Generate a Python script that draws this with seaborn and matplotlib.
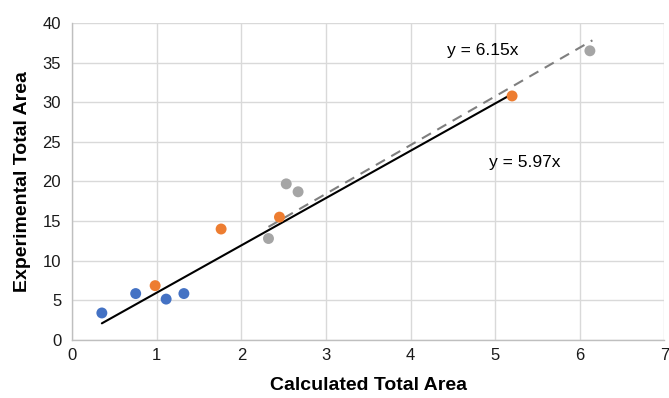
import numpy as np
import pandas as pd
import matplotlib
matplotlib.use('Agg')
import matplotlib.pyplot as plt
import seaborn as sns

# data
blue_x = [0.35, 0.75, 1.11, 1.32]
blue_y = [3.4, 5.85, 5.15, 5.85]
orange_x = [0.98, 1.76, 2.45, 5.20]
orange_y = [6.85, 14.0, 15.5, 30.8]
gray_x = [2.32, 2.53, 2.67, 6.12]
gray_y = [12.8, 19.7, 18.7, 36.5]

fit_all_slope = 5.97
fit_gray_slope = 6.15

sns.set_style('white')
plt.rcParams['font.family'] = ['Liberation Sans', 'DejaVu Sans']
plt.rcParams['text.color'] = 'black'
plt.rcParams['axes.labelcolor'] = 'black'
plt.rcParams['xtick.labelcolor'] = '#1a1a1a'
plt.rcParams['ytick.labelcolor'] = '#1a1a1a'

df = pd.DataFrame({
    'x': blue_x + orange_x + gray_x,
    'y': blue_y + orange_y + gray_y,
    'group': ['blue'] * 4 + ['orange'] * 4 + ['gray'] * 4,
})
palette = {'blue': '#4472C4', 'orange': '#ED7D31', 'gray': '#A5A5A5'}

fig = plt.figure(figsize=(6.69, 3.98), dpi=100)
ax = fig.add_axes([0.108, 0.146, 0.885, 0.796])

# trendlines
xs = np.array([min(blue_x + orange_x), max(blue_x + orange_x)])
ax.plot(xs, fit_all_slope * xs, color='black', lw=1.5, zorder=2)
xg = np.array([min(gray_x), max(gray_x) + 0.03])
ax.plot(xg, fit_gray_slope * xg, color='#7f7f7f', lw=1.5, ls=(0, (5, 3.5)), zorder=2)

sns.scatterplot(data=df, x='x', y='y', hue='group', palette=palette, s=62,
                edgecolor='none', legend=False, ax=ax, zorder=3)

ax.text(4.85, 36.6, 'y = 6.15x', fontsize=12.5, ha='center', va='center')
ax.text(5.35, 22.4, 'y = 5.97x', fontsize=12.5, ha='center', va='center')

ax.set_xlim(0, 7)
ax.set_ylim(0, 40)
ax.set_xticks(range(0, 8))
ax.set_yticks(range(0, 41, 5))
ax.grid(True, color='#d9d9d9', lw=1)
ax.set_axisbelow(True)
for s in ['top', 'right']:
    ax.spines[s].set_visible(False)
for s in ['left', 'bottom']:
    ax.spines[s].set_color('#bfbfbf')
    ax.spines[s].set_linewidth(1)
ax.tick_params(axis='both', labelsize=12, color='#bfbfbf', length=4, width=1)
ax.tick_params(axis='x', direction='in', pad=6)
ax.tick_params(axis='y', direction='out', pad=4)

ax.set_xlabel('Calculated Total Area', fontsize=14, fontweight='bold', labelpad=10)
ax.set_ylabel('Experimental Total Area', fontsize=14, fontweight='bold', labelpad=8)

plt.savefig('out.png', dpi=100)
